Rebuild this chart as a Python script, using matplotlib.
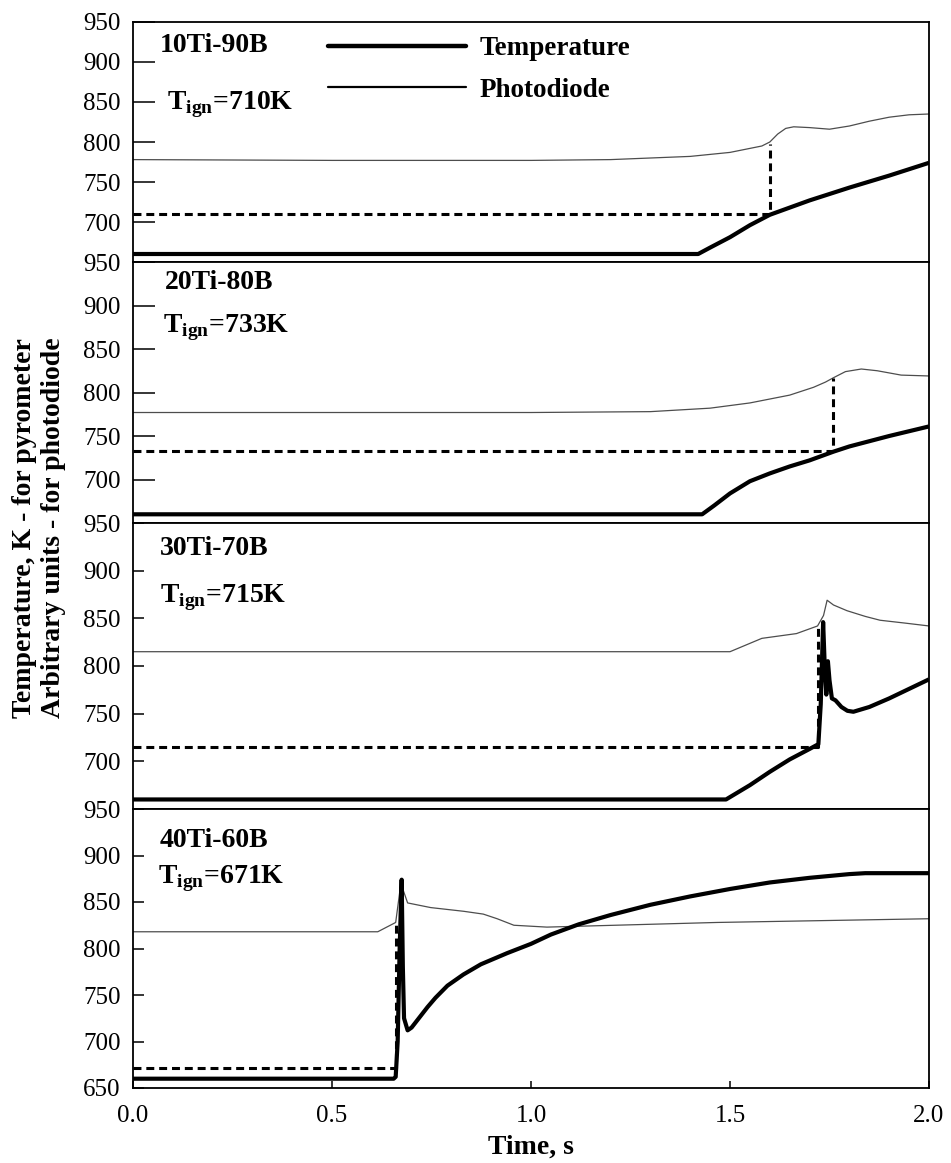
import matplotlib
matplotlib.use("Agg")
import matplotlib.pyplot as plt
from matplotlib.lines import Line2D

plt.rcParams["font.family"] = ["Liberation Serif", "DejaVu Serif"]
plt.rcParams["mathtext.fontset"] = "custom"
plt.rcParams["mathtext.bf"] = "Liberation Serif:bold"
plt.rcParams["mathtext.rm"] = "Liberation Serif:bold"

# ---- data -----------------------------------------------------------------
samples = ["10Ti-90B", "20Ti-80B", "30Ti-70B", "40Ti-60B"]
t_ign_values = [710, 733, 715, 671]          # ignition temperature, K
t_ign_times = [1.60, 1.76, 1.722, 0.662]      # moment of ignition, s
t_ign_tops = [797, 817, 840, 827]             # photodiode level at ignition

# 10Ti-90B
temp1_t = [0.0, 1.42, 1.45, 1.50, 1.55, 1.60, 1.70, 1.80, 1.90, 2.00]
temp1_v = [660, 660, 668, 681, 696, 709, 727, 743, 758, 774]
photo1_t = [0.0, 0.5, 1.0, 1.2, 1.4, 1.5, 1.58, 1.60, 1.62, 1.64, 1.66,
            1.70, 1.75, 1.80, 1.85, 1.90, 1.95, 2.00]
photo1_v = [778, 777, 777, 778, 782, 787, 795, 800, 810, 817, 819,
            818, 816, 820, 826, 831, 834, 835]

# 20Ti-80B
temp2_t = [0.0, 1.43, 1.46, 1.50, 1.55, 1.60, 1.65, 1.70, 1.76, 1.80,
           1.90, 2.00]
temp2_v = [660, 660, 670, 684, 698, 707, 715, 722, 732, 738, 750, 761]
photo2_t = [0.0, 1.0, 1.3, 1.45, 1.55, 1.65, 1.71, 1.74, 1.76, 1.79, 1.83,
            1.87, 1.93, 2.00]
photo2_v = [777, 777, 778, 782, 788, 797, 806, 812, 817, 824, 827,
            825, 820, 819]

# 30Ti-70B
temp3_t = [0.0, 1.49, 1.55, 1.60, 1.65, 1.70, 1.722, 1.728, 1.734, 1.738,
           1.742, 1.746, 1.750, 1.756, 1.765, 1.78, 1.795, 1.81, 1.85,
           1.90, 1.95, 2.00]
temp3_v = [660, 660, 675, 689, 702, 713, 718, 760, 846, 800, 770, 805,
           785, 766, 764, 757, 753, 752, 757, 766, 776, 786]
photo3_t = [0.0, 1.0, 1.50, 1.58, 1.667, 1.72, 1.735, 1.744, 1.76, 1.794,
            1.84, 1.877, 1.94, 2.00]
photo3_v = [815, 815, 815, 829, 834, 842, 853, 869, 864, 858,
            852, 848, 845, 842]

# 40Ti-60B
temp4_t = [0.0, 0.655, 0.660, 0.665, 0.670, 0.675, 0.678, 0.681, 0.690,
           0.70, 0.72, 0.74, 0.76, 0.79, 0.83, 0.874, 0.94, 1.00, 1.05,
           1.12, 1.20, 1.30, 1.40, 1.50, 1.60, 1.70, 1.80, 1.84, 2.00]
temp4_v = [660, 660, 662, 700, 800, 874, 780, 725, 712,
           715, 726, 737, 747, 760, 772, 783, 795, 805, 815,
           826, 836, 847, 856, 864, 871, 876, 880, 881, 881]
photo4_t = [0.0, 0.615, 0.66, 0.673, 0.69, 0.748, 0.831, 0.88, 0.915,
            0.957, 1.04, 1.467, 2.00]
photo4_v = [818, 818, 828, 870, 849, 844, 840, 837, 832,
            825, 823, 828, 832]

temps = [(temp1_t, temp1_v), (temp2_t, temp2_v),
         (temp3_t, temp3_v), (temp4_t, temp4_v)]
photos = [(photo1_t, photo1_v), (photo2_t, photo2_v),
          (photo3_t, photo3_v), (photo4_t, photo4_v)]

x_ticks = [0.0, 0.5, 1.0, 1.5, 2.0]
x_tick_labels = ["0.0", "0.5", "1.0", "1.5", "2.0"]

# ---- layout (pixel rows of the stacked panels) ----------------------------
W, H = 951, 1163
left_px, right_px = 133, 929
rows_px = [22, 262, 523, 809, 1088]
tick_len = [16, 16, 8, 8]
name_pos = [(0.034, 0.90), (0.040, 0.92), (0.034, 0.91), (0.034, 0.886)]
tign_pos = [(0.043, 0.655), (0.038, 0.75), (0.034, 0.74), (0.032, 0.75)]

fig = plt.figure(figsize=(W / 100, H / 100), dpi=100)

axes = []
for i in range(4):
    top, bot = rows_px[i], rows_px[i + 1]
    ax = fig.add_axes([left_px / W, 1 - bot / H,
                       (right_px - left_px) / W, (bot - top) / H])
    axes.append(ax)

    t, v = temps[i]
    pt, pv = photos[i]
    ax.plot(pt, pv, color="0.3", lw=0.9, solid_joinstyle="round")
    ax.plot(t, v, color="black", lw=3.0, solid_joinstyle="round",
            solid_capstyle="butt")
    ax.plot([0.0, t_ign_times[i], t_ign_times[i]],
            [t_ign_values[i], t_ign_values[i], t_ign_tops[i]],
            color="black", lw=2.2, dashes=(2.6, 1.6))

    ax.set_xlim(0.0, 2.0)
    ax.set_ylim(650, 950)
    if i < 3:
        ax.set_yticks([700, 750, 800, 850, 900, 950])
        ax.tick_params(axis="x", bottom=False, labelbottom=False)
    else:
        ax.set_yticks([650, 700, 750, 800, 850, 900, 950])
        ax.set_xticks(x_ticks)
        ax.set_xticklabels(x_tick_labels)
        ax.tick_params(axis="x", direction="in", length=5, width=1.1,
                       labelsize=18, pad=12)
        ax.set_xlabel("Time, s", fontsize=20, fontweight="bold", labelpad=6)
    ax.tick_params(axis="y", direction="in", length=tick_len[i], width=1.1,
                   labelsize=18, pad=9, right=False)
    for sp in ax.spines.values():
        sp.set_linewidth(1.3)

    ax.text(name_pos[i][0], name_pos[i][1], samples[i],
            transform=ax.transAxes, fontsize=20, fontweight="bold",
            va="center", ha="left")
    ax.text(tign_pos[i][0], tign_pos[i][1],
            r"T$_{\mathbf{ign}}$=%dK" % t_ign_values[i],
            transform=ax.transAxes, fontsize=20, fontweight="bold",
            va="center", ha="left")

handles = [Line2D([], [], color="black", lw=3.2, solid_capstyle="round"),
           Line2D([], [], color="black", lw=1.6, solid_capstyle="round")]
axes[0].legend(handles, ["Temperature", "Photodiode"], loc="upper left",
               bbox_to_anchor=(0.245, 0.94), frameon=False, borderpad=0,
               borderaxespad=0, handlelength=5.1, handletextpad=0.5,
               labelspacing=0.6,
               prop={"family": "Liberation Serif", "weight": "bold",
                     "size": 19.5})

fig.text(0.041, 1 - 528 / H,
         "Temperature, K - for pyrometer\nArbitrary units - for photodiode",
         rotation=90, ha="center", va="center", multialignment="center",
         fontsize=20, fontweight="bold", linespacing=1.25)

fig.savefig("out.png", dpi=100)
